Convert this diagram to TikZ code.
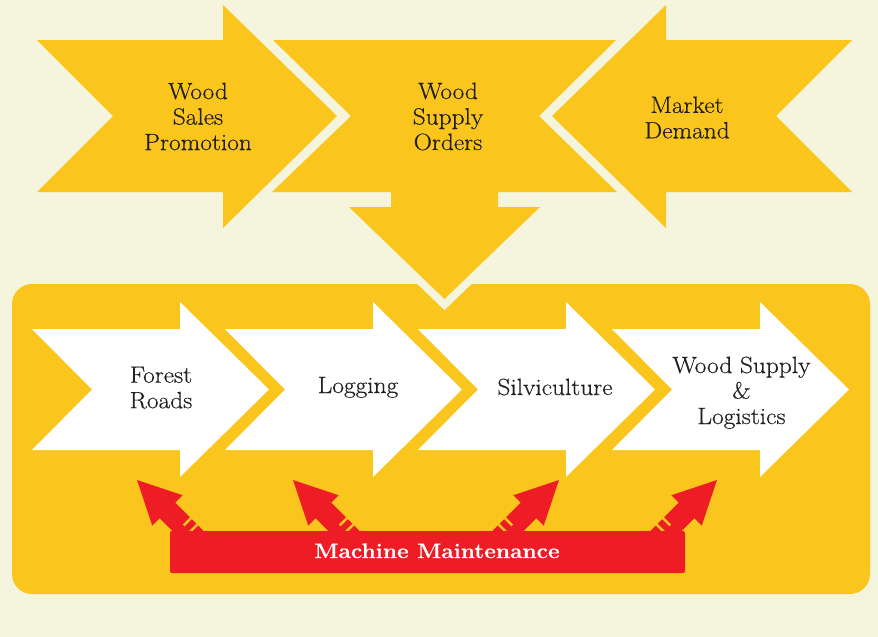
\documentclass[tikz,border=0pt]{standalone}
\usepackage{fontspec}
\setmainfont{Latin Modern Roman}[FakeStretch=1.08, FakeBold=0.4]
\definecolor{bgcream}{HTML}{F5F5DE}
\definecolor{wyellow}{HTML}{FAC51C}
\definecolor{mred}{HTML}{EE1C25}
\definecolor{ink}{HTML}{231F20}
\newcommand{\mmarrowshape}{%
  \fill[mred] (-15,-11) -- (29,-11) -- (29,-21.5) -- (72,0) -- (29,21.5) -- (29,11) -- (-15,11) -- cycle;
  \draw[wyellow, line width=2.5] (7,1) -- (7,13);
  \draw[wyellow, line width=2.5] (-2,1) -- (-2,13);
}
\begin{document}
\begin{tikzpicture}[x=1pt,y=-1pt,
  yshape/.style={fill=wyellow},
  wshape/.style={fill=white},
  lbl/.style={text=ink, font=\fontsize{23.5}{25.5}\selectfont, align=center, inner sep=0pt},
  barbox/.style={fill=mred, rounded corners=2, minimum width=515, minimum height=42, inner sep=0pt},
  barlbl/.style={text=white, font=\fontsize{21}{24}\selectfont\bfseries, inner sep=0pt}]
\useasboundingbox (0,0) rectangle (878,637);
\fill[bgcream] (0,0) rectangle (878,637);
% big rounded panel
\fill[wyellow, rounded corners=20] (12,284) rectangle (870,594);
% Wood Supply Orders shape with down arrow, cream outline behind
\path[yshape, preaction={draw=bgcream, line width=16, line join=miter}]
  (273,40) -- (616,40) -- (539,116) -- (617,192) -- (498,192) -- (498,207) -- (540,207)
  -- (444.5,299) -- (349,207) -- (391,207) -- (391,192) -- (272,192) -- (351,116) -- cycle;
% Wood Sales Promotion (right arrow)
\fill[wyellow] (37,40) -- (223,40) -- (223,5) -- (337,116) -- (223,228) -- (223,192) -- (37,192) -- (113,116) -- cycle;
% Market Demand (left arrow)
\fill[wyellow] (852,40) -- (666,40) -- (666,5) -- (552,116) -- (666,228) -- (666,192) -- (852,192) -- (776,116) -- cycle;
% white process arrows
\foreach \xo in {32,225,418,612}{
  \fill[wshape] (\xo,329) -- ({\xo+148},329) -- ({\xo+148},302) -- ({\xo+237},389.5)
    -- ({\xo+148},477) -- ({\xo+148},450) -- (\xo,450) -- ({\xo+60},389.5) -- cycle;
}
% red arrows
\begin{scope}[shift={(188,531)}, rotate=135]\mmarrowshape\end{scope}
\begin{scope}[shift={(344,531)}, rotate=135]\mmarrowshape\end{scope}
\begin{scope}[shift={(508,531)}, xscale=-1, rotate=135]\mmarrowshape\end{scope}
\begin{scope}[shift={(666,531)}, xscale=-1, rotate=135]\mmarrowshape\end{scope}
% red bar
\node[barbox] (bar) at (427.5,552) {};
\node[barlbl, anchor=base] (mm) at (437,558) {Machine Maintenance};
% labels
\node[lbl] (wsp) at (198,116.5) {Wood\\Sales\\Promotion};
\node[lbl] (wso) at (448,116.5) {Wood\\Supply\\Orders};
\node[lbl] (md) at (687,117.5) {Market\\Demand};
\node[lbl] (fr) at (161,387.6) {Forest\\Roads};
\node[lbl, anchor=base] (lg) at (358,393) {Logging};
\node[lbl, anchor=base] (sv) at (555,395) {Silviculture};
\node[lbl] (wsl) at (741.5,392.7) {Wood Supply\\\&\\Logistics};
\end{tikzpicture}
\end{document}
